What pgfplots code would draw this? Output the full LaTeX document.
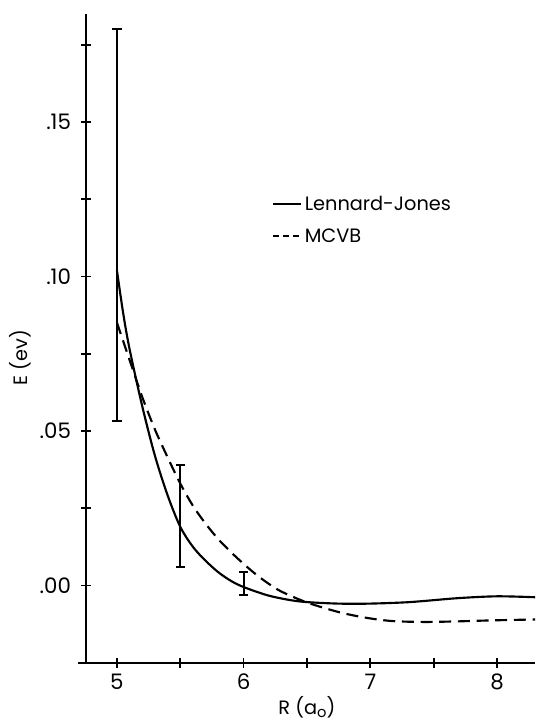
\documentclass[border=0pt]{standalone}
\usepackage{fontspec}
\setmainfont{Poppins}
\usepackage{pgfplots}
\pgfplotsset{compat=1.18}
\usetikzlibrary{calc}

% E (eV) against R (a_o)
\pgfplotstableread{
x       y
5.00    0.1020
5.05    0.0880
5.10    0.0765
5.20    0.0580
5.30    0.0420
5.40    0.0292
5.50    0.0190
5.60    0.0125
5.70    0.0080
5.80    0.0043
5.90    0.0015
6.00   -0.0005
6.20   -0.0033
6.43   -0.0051
6.70   -0.0058
6.95   -0.0059
7.30   -0.0054
7.69   -0.0041
8.00   -0.0035
8.30   -0.0038
}\lennardjones

\pgfplotstableread{
x       y
5.00    0.0851
5.10    0.0730
5.20    0.0610
5.30    0.0505
5.40    0.0415
5.50    0.0330
5.60    0.0258
5.70    0.0200
5.80    0.0150
5.90    0.0108
6.00    0.0070
6.10    0.0035
6.20    0.0005
6.30   -0.0020
6.50   -0.0055
6.75   -0.0086
6.96   -0.0104
7.17   -0.0115
7.43   -0.0118
7.70   -0.0116
7.95   -0.0113
8.30   -0.0110
}\mcvb

\begin{document}
\begin{tikzpicture}
\begin{axis}[
  scale only axis,
  width=336.75pt,
  height=486.5pt,
  xmin=4.756, xmax=8.3,
  ymin=-0.025, ymax=0.185,
  axis x line=bottom,
  axis y line=left,
  axis line style={-, line width=1.5pt},
  x axis line style={shorten <=-6pt},
  tick align=center,
  major tick length=7.5pt,
  tick style={line width=1.3pt, black},
  xtick={5,5.5,6,6.5,7,7.5,8},
  xticklabels={5,,6,,7,,8},
  ytick={0,0.025,0.05,0.075,0.1,0.125,0.15,0.175},
  yticklabels={.00,,.05,,.10,,.15,},
  /pgf/number format/assume math mode=true,
  ticklabel style={font=\fontsize{16}{18}\selectfont},
  xticklabel style={yshift=-1pt},
  yticklabel style={xshift=-4pt},
  xlabel={R (a\raisebox{-2pt}{\fontsize{11}{13}\selectfont o})},
  ylabel={E (ev)},
  every axis x label/.style={at={(axis description cs:0.492,-0.069)}, anchor=center, font=\fontsize{14.5}{16}\selectfont},
  every axis y label/.style={at={(axis description cs:-0.147,0.47)}, rotate=90, anchor=center, font=\fontsize{14.5}{16}\selectfont},
  legend style={draw=none, fill=none, at={(axis description cs:0.405,0.728)}, anchor=north west,
    font=\fontsize{14.5}{17}\selectfont, row sep=8pt, cells={anchor=west}},
  legend cell align=left,
]
\addplot[black, line width=1.6pt, smooth,
  legend image code/.code={\draw[black, line width=1.5pt] (0pt,0pt) -- (21pt,0pt);}]
  table[x=x, y=y] {\lennardjones};
\addlegendentry{Lennard-Jones}
\addplot[black, line width=1.6pt, smooth, dash pattern=on 9pt off 5pt,
  legend image code/.code={\draw[black, line width=1.5pt, dash pattern=on 4.5pt off 3pt] (0pt,0pt) -- (21pt,0pt);}]
  table[x=x, y=y] {\mcvb};
\addlegendentry{MCVB}
\addplot[draw=none, forget plot,
  error bars/.cd, y dir=both, y explicit,
  error bar style={draw=black, solid, line width=1.5pt},
  error mark options={draw=black, rotate=90, mark size=3.5pt, line width=1.5pt}]
  coordinates {
    (5.0,0.102) += (0,0.078) -= (0,0.0486)
    (5.5,0.019) += (0,0.020) -= (0,0.0130)
    (6.0,-0.0005) += (0,0.0050) -= (0,0.0025)
  };
\end{axis}
\pgfresetboundingbox
\path[use as bounding box] ($(current axis.south west)+(-64.5pt,-46.7pt)$) rectangle ($(current axis.north east)+(0pt,10.5pt)$);
\end{tikzpicture}
\end{document}
